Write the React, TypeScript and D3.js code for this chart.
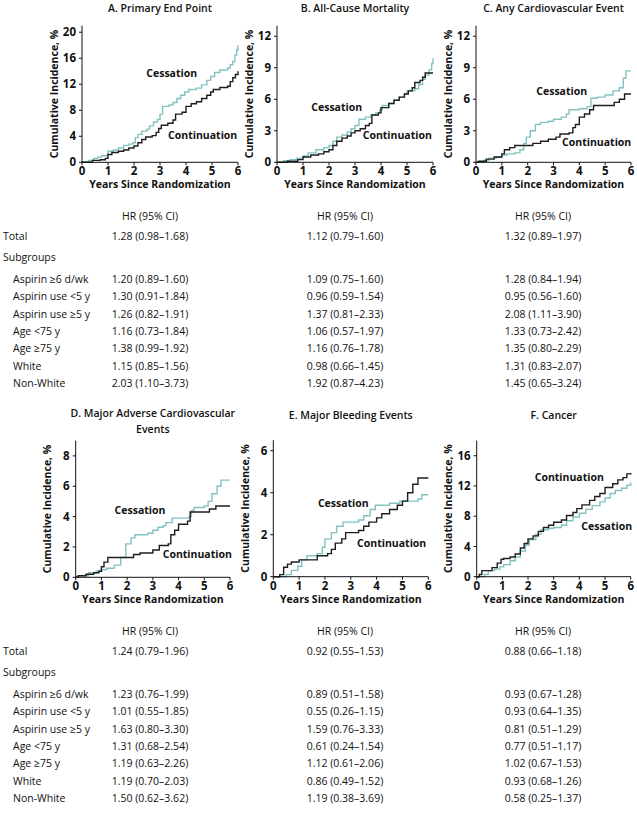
import React from 'react';
import * as d3 from 'd3';

type Pt = [number, number];

// ---------- DATA ----------
const yearTicks = [0, 1, 2, 3, 4, 5, 6];

const aCessation: Pt[] = [[0,0],[0.25,0.3],[0.45,0.6],[0.6,0.8],[0.75,1.0],[0.95,1.1],[1.0,1.7],[1.2,1.9],[1.4,2.2],[1.6,2.6],[1.8,2.8],[1.95,3.0],[2.05,3.8],[2.15,4.3],[2.3,4.8],[2.5,5.1],[2.6,5.6],[2.75,6.2],[2.9,6.6],[3.0,7.4],[3.1,8.6],[3.35,8.8],[3.5,9.2],[3.65,9.8],[3.8,10.3],[3.95,10.8],[4.1,11.2],[4.4,11.4],[4.6,11.9],[4.8,12.6],[4.95,13.2],[5.1,13.8],[5.3,14.2],[5.6,14.5],[5.7,15.0],[5.8,15.5],[5.88,16.5],[5.95,17.3],[6.0,18.0]];
const aContinuation: Pt[] = [[0,0],[0.4,0.3],[0.7,0.4],[0.9,0.6],[1.0,1.2],[1.15,1.5],[1.4,1.7],[1.6,1.9],[1.8,2.2],[2.0,2.5],[2.15,3.0],[2.3,3.5],[2.45,3.9],[2.7,4.1],[2.85,4.6],[2.95,5.2],[3.05,5.7],[3.3,6.0],[3.5,6.5],[3.6,7.4],[3.85,7.7],[4.0,8.6],[4.2,9.0],[4.4,9.3],[4.6,9.8],[4.8,10.3],[4.95,10.8],[5.05,11.2],[5.3,11.5],[5.6,11.7],[5.7,12.4],[5.8,13.0],[5.9,13.5],[6.0,14.0]];

const bCessation: Pt[] = [[0,0],[0.25,0.15],[0.5,0.25],[0.75,0.4],[1.0,0.6],[1.2,0.9],[1.5,1.2],[1.8,1.4],[2.0,1.6],[2.15,2.0],[2.3,2.4],[2.5,2.6],[2.7,2.9],[2.85,3.2],[3.0,3.5],[3.15,4.1],[3.4,4.3],[3.6,4.5],[3.8,4.7],[3.95,5.0],[4.05,5.4],[4.3,5.6],[4.5,5.9],[4.7,6.2],[4.9,6.5],[5.0,6.8],[5.3,7.0],[5.45,7.4],[5.6,7.9],[5.7,8.3],[5.85,8.8],[5.95,9.4],[6.0,9.9]];
const bContinuation: Pt[] = [[0,0],[0.4,0.1],[0.8,0.25],[1.0,0.5],[1.3,0.7],[1.6,0.8],[1.8,1.0],[2.0,1.2],[2.15,1.6],[2.3,2.0],[2.5,2.3],[2.7,2.5],[2.85,2.8],[3.0,3.0],[3.2,3.2],[3.4,3.5],[3.55,3.7],[3.65,4.5],[3.9,4.7],[4.0,5.2],[4.3,5.6],[4.5,5.9],[4.7,6.2],[4.9,6.5],[5.05,6.8],[5.2,7.1],[5.3,7.6],[5.5,7.8],[5.6,8.1],[5.7,8.5],[6.0,8.5]];

const cCessation: Pt[] = [[0,0],[0.3,0.2],[0.5,0.4],[0.8,0.5],[1.0,0.7],[1.2,0.8],[1.5,0.9],[1.7,1.2],[1.85,1.8],[1.95,2.4],[2.1,3.0],[2.3,3.6],[2.5,3.8],[2.8,3.9],[3.0,4.1],[3.3,4.3],[3.5,4.6],[3.6,5.0],[4.0,5.1],[4.3,5.3],[4.45,6.1],[4.7,6.2],[5.0,6.4],[5.3,6.8],[5.55,7.1],[5.7,8.0],[5.8,8.7],[6.0,8.7]];
const cContinuation: Pt[] = [[0,0],[0.1,0.1],[0.4,0.3],[0.7,0.5],[1.0,0.8],[1.1,1.2],[1.3,1.4],[1.5,1.6],[2.0,1.6],[2.2,1.8],[2.5,2.0],[2.8,2.2],[3.1,2.4],[3.25,2.7],[3.6,2.8],[3.75,3.3],[3.85,3.6],[4.0,4.3],[4.2,4.6],[4.4,5.0],[4.55,5.4],[5.2,5.4],[5.35,5.7],[5.55,6.0],[5.75,6.5],[6.0,6.5]];

const dCessation: Pt[] = [[0,0],[0.1,0.1],[0.5,0.3],[0.8,0.4],[1.0,0.5],[1.2,0.6],[1.5,0.8],[1.75,1.3],[1.95,2.2],[2.15,2.6],[2.3,2.8],[2.8,2.9],[3.0,3.1],[3.2,3.3],[3.4,3.4],[3.5,3.6],[3.75,3.9],[4.4,4.0],[4.5,4.4],[4.6,4.6],[5.0,4.7],[5.15,5.0],[5.3,5.5],[5.5,6.0],[5.65,6.4],[6.0,6.4]];
const dContinuation: Pt[] = [[0,0],[0.1,0.1],[0.4,0.2],[0.7,0.3],[0.9,0.4],[1.0,0.7],[1.1,1.0],[1.25,1.3],[2.0,1.3],[2.25,1.5],[2.5,1.6],[3.0,1.8],[3.25,2.1],[3.6,2.2],[3.7,2.8],[3.85,3.1],[4.0,3.5],[4.35,3.7],[4.45,4.3],[5.0,4.3],[5.2,4.5],[5.45,4.7],[6.0,4.7]];

const eCessation: Pt[] = [[0,0],[0.5,0.1],[0.7,0.3],[0.95,0.5],[1.1,0.8],[1.3,1.0],[1.7,1.1],[1.9,1.4],[2.0,1.8],[2.25,2.1],[2.45,2.4],[2.7,2.6],[3.3,2.7],[3.5,2.9],[3.75,3.2],[3.95,3.4],[4.5,3.5],[4.9,3.6],[5.6,3.7],[5.75,3.9],[6.0,3.9]];
const eContinuation: Pt[] = [[0,0],[0.25,0.1],[0.4,0.45],[0.55,0.6],[0.7,0.7],[1.0,0.8],[1.6,0.8],[1.7,1.0],[2.1,1.1],[2.25,1.3],[2.4,1.6],[2.65,1.8],[2.8,2.1],[3.3,2.2],[3.5,2.4],[3.7,2.6],[4.0,2.8],[4.2,3.0],[4.5,3.2],[4.8,3.4],[5.0,3.6],[5.2,4.0],[5.4,4.4],[5.6,4.7],[6.0,4.7]];

const fCessation: Pt[] = [[0,0],[0.3,0.3],[0.45,0.8],[0.7,1.0],[0.9,1.3],[1.05,1.6],[1.3,2.1],[1.5,2.6],[1.7,3.4],[1.9,4.2],[2.05,4.9],[2.3,5.6],[2.5,6.2],[2.8,6.4],[3.0,6.5],[3.3,6.8],[3.5,7.4],[3.75,7.9],[4.0,8.4],[4.25,8.9],[4.5,9.4],[4.8,9.9],[5.0,10.4],[5.2,11.0],[5.4,11.4],[5.65,11.7],[5.85,12.1],[6.0,12.5]];
const fContinuation: Pt[] = [[0,0],[0.1,0.3],[0.2,0.8],[0.5,0.8],[0.6,1.2],[0.8,1.8],[0.95,2.3],[1.05,2.4],[1.3,2.6],[1.5,3.0],[1.7,3.8],[1.85,4.4],[2.0,5.0],[2.2,5.4],[2.4,6.0],[2.6,6.5],[2.8,6.8],[3.0,7.2],[3.3,7.5],[3.5,8.1],[3.75,8.5],[3.9,9.0],[4.1,9.5],[4.4,10.1],[4.6,10.6],[4.8,11.0],[5.0,11.8],[5.3,12.3],[5.5,12.8],[5.7,13.1],[5.85,13.6],[6.0,13.7]];

const panelTitles = [['A. Primary End Point'], ['B. All-Cause Mortality'], ['C. Any Cardiovascular Event'], ['D. Major Adverse Cardiovascular', 'Events'], ['E. Major Bleeding Events'], ['F. Cancer']];
const yMaxes = [21, 13, 13, 9, 6.5, 18];
const yTicks = [[0, 4, 8, 12, 16, 20], [0, 3, 6, 9, 12], [0, 3, 6, 9, 12], [0, 2, 4, 6, 8], [0, 2, 4, 6], [0, 4, 8, 12, 16]];
const cessationSeries = [aCessation, bCessation, cCessation, dCessation, eCessation, fCessation];
const continuationSeries = [aContinuation, bContinuation, cContinuation, dContinuation, eContinuation, fContinuation];

const subgroupLabels = ['Aspirin ≥6 d/wk', 'Aspirin use <5 y', 'Aspirin use ≥5 y', 'Age <75 y', 'Age ≥75 y', 'White', 'Non-White'];
const totalHR = ['1.28 (0.98–1.68)', '1.12 (0.79–1.60)', '1.32 (0.89–1.97)', '1.24 (0.79–1.96)', '0.92 (0.55–1.53)', '0.88 (0.66–1.18)'];
const subgroupHR = [
  ['1.20 (0.89–1.60)', '1.30 (0.91–1.84)', '1.26 (0.82–1.91)', '1.16 (0.73–1.84)', '1.38 (0.99–1.92)', '1.15 (0.85–1.56)', '2.03 (1.10–3.73)'],
  ['1.09 (0.75–1.60)', '0.96 (0.59–1.54)', '1.37 (0.81–2.33)', '1.06 (0.57–1.97)', '1.16 (0.76–1.78)', '0.98 (0.66–1.45)', '1.92 (0.87–4.23)'],
  ['1.28 (0.84–1.94)', '0.95 (0.56–1.60)', '2.08 (1.11–3.90)', '1.33 (0.73–2.42)', '1.35 (0.80–2.29)', '1.31 (0.83–2.07)', '1.45 (0.65–3.24)'],
  ['1.23 (0.76–1.99)', '1.01 (0.55–1.85)', '1.63 (0.80–3.30)', '1.31 (0.68–2.54)', '1.19 (0.63–2.26)', '1.19 (0.70–2.03)', '1.50 (0.62–3.62)'],
  ['0.89 (0.51–1.58)', '0.55 (0.26–1.15)', '1.59 (0.76–3.33)', '0.61 (0.24–1.54)', '1.12 (0.61–2.06)', '0.86 (0.49–1.52)', '1.19 (0.38–3.69)'],
  ['0.93 (0.67–1.28)', '0.93 (0.64–1.35)', '0.81 (0.51–1.29)', '0.77 (0.51–1.17)', '1.02 (0.67–1.53)', '0.93 (0.68–1.26)', '0.58 (0.25–1.37)'],
];

// ---------- LAYOUT ----------
const W = 637, H = 815;
const FONT = '"Open Sans", "Noto Sans", sans-serif';
const TEAL = '#84c2c2';
const DARK = '#1e1e1e';

const frames = [
  { l: 82, r: 238, b: 162.3, t: 25.7 },
  { l: 277, r: 433, b: 162.3, t: 25.7 },
  { l: 476, r: 631, b: 162.3, t: 25.7 },
  { l: 75.7, r: 230, b: 577.3, t: 440.7 },
  { l: 273.3, r: 428.3, b: 576.7, t: 440.2 },
  { l: 476.7, r: 630.7, b: 576.7, t: 440.6 },
];
const titleY = [12, 12, 12, 417, 419, 419];
const cessLabelPos = [[171.7, 73.3], [336.7, 107.3], [561.7, 91], [140, 510], [343.3, 503.3], [606.7, 526.7]];
const contLabelPos = [[202.7, 135], [397.3, 135], [596.7, 142.7], [197.3, 554], [391.7, 543.3], [569.3, 477.7]];

const tableTop = [216.7, 631.7];
const colCenters = [150, 345, 543];

function Panel({ i }: { i: number }) {
  const f = frames[i];
  const x = d3.scaleLinear().domain([0, 6]).range([f.l, f.r]);
  const y = d3.scaleLinear().domain([0, yMaxes[i]]).range([f.b, f.t]);
  const line = d3.line<Pt>().x(d => x(d[0])).y(d => y(d[1])).curve(d3.curveStepAfter);
  const cx = (f.l + f.r) / 2;
  const cy = (f.b + f.t) / 2;
  return (
    <g>
      {panelTitles[i].map((t, k) => (
        <text key={k} x={cx} y={titleY[i] + k * 16} textAnchor="middle" fontSize={10.5} fontWeight={600} fill="#111">{t}</text>
      ))}
      <path d={line(cessationSeries[i]) || ''} fill="none" stroke={TEAL} strokeWidth={1.4} />
      <path d={line(continuationSeries[i]) || ''} fill="none" stroke={DARK} strokeWidth={1.4} />
      <line x1={f.l} x2={f.l} y1={f.t} y2={f.b} stroke="#111" strokeWidth={1} />
      <line x1={f.l} x2={f.r} y1={f.b} y2={f.b} stroke="#111" strokeWidth={1} />
      {yTicks[i].map(v => (
        <g key={'y' + v}>
          <line x1={f.l - 3} x2={f.l} y1={y(v)} y2={y(v)} stroke="#111" />
          <text x={f.l - 6} y={y(v)} dy="0.36em" textAnchor="end" fontSize={11.5} fontWeight={700} fill="#111">{v}</text>
        </g>
      ))}
      {yearTicks.map(v => (
        <g key={'x' + v}>
          <line x1={x(v)} x2={x(v)} y1={f.b} y2={f.b + 3} stroke="#111" />
          <text x={x(v)} y={f.b + 13} textAnchor="middle" fontSize={11.5} fontWeight={700} fill="#111">{v}</text>
        </g>
      ))}
      <text x={cx} y={f.b + 26} textAnchor="middle" fontSize={10.5} fontWeight={700} fill="#111">Years Since Randomization</text>
      <text transform={`translate(${f.l - 28},${cy}) rotate(-90)`} textAnchor="middle" dy="0.35em" fontSize={10.5} fontWeight={700} fill="#111">Cumulative Incidence, %</text>
      <text x={cessLabelPos[i][0]} y={cessLabelPos[i][1]} dy="0.35em" textAnchor="middle" fontSize={10.5} fontWeight={700} fill="#111">Cessation</text>
      <text x={contLabelPos[i][0]} y={contLabelPos[i][1]} dy="0.35em" textAnchor="middle" fontSize={10.5} fontWeight={700} fill="#111">Continuation</text>
    </g>
  );
}

function Table({ row }: { row: number }) {
  const top = tableTop[row];
  const rowsY = subgroupLabels.map((_, k) => top + 62.5 + k * 17.4);
  return (
    <g fontSize={10.5} fontWeight={500} fill="#111">
      {colCenters.map((c, j) => (
        <text key={'h' + j} x={c} y={top} dy="0.35em" textAnchor="middle">HR (95% CI)</text>
      ))}
      <text x={3} y={top + 19.5} dy="0.35em">Total</text>
      {colCenters.map((c, j) => (
        <text key={'t' + j} x={c} y={top + 19.5} dy="0.35em" textAnchor="middle">{totalHR[row * 3 + j]}</text>
      ))}
      <text x={3} y={top + 40.5} dy="0.35em">Subgroups</text>
      {subgroupLabels.map((lab, k) => (
        <g key={'r' + k}>
          <text x={13} y={rowsY[k]} dy="0.35em">{lab}</text>
          {colCenters.map((c, j) => (
            <text key={j} x={c} y={rowsY[k]} dy="0.35em" textAnchor="middle">{subgroupHR[row * 3 + j][k]}</text>
          ))}
        </g>
      ))}
    </g>
  );
}

export default function App() {
  return (
    <svg width={W} height={H} style={{ position: 'absolute', left: 0, top: 0, background: '#fff' }} fontFamily={FONT}>
      <rect width={W} height={H} fill="#fff" />
      {[0, 1, 2, 3, 4, 5].map(i => <Panel key={i} i={i} />)}
      <Table row={0} />
      <Table row={1} />
    </svg>
  );
}
